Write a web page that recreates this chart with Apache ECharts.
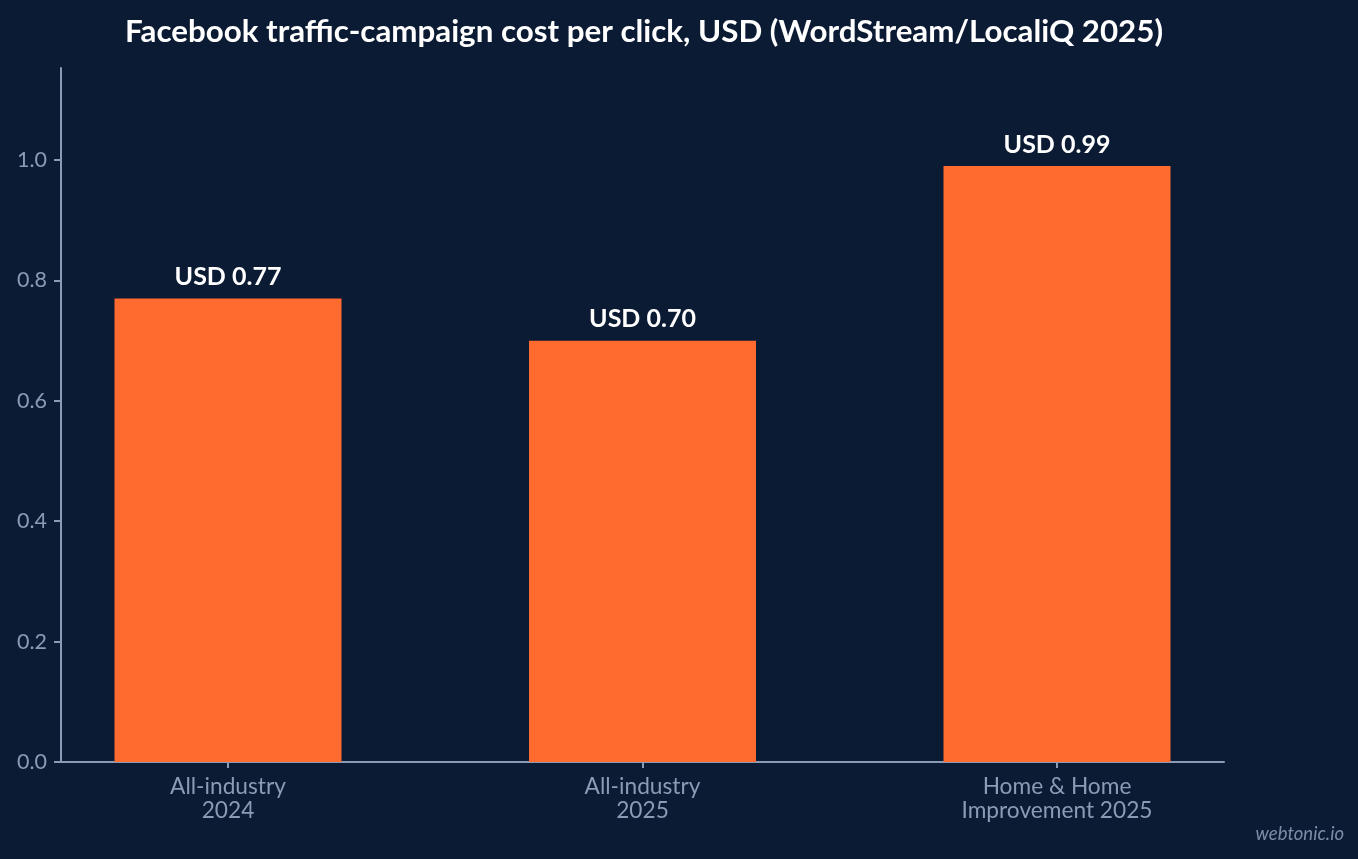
<!DOCTYPE html>
<html>
<head>
<meta charset="utf-8">
<script src="https://cdn.jsdelivr.net/npm/echarts@6/dist/echarts.min.js"></script>
<style>
  html, body { margin: 0; padding: 0; background: #0b1b34; }
  #chart { width: 1358px; height: 859px; }
</style>
</head>
<body>
<div id="chart"></div>
<script>
// data
var categories = ['All-industry\n2024', 'All-industry\n2025', 'Home & Home\nImprovement 2025'];
var cpcValues = [0.77, 0.70, 0.99];
var yTicks = [0, 0.2, 0.4, 0.6, 0.8, 1.0];
var yMax = 1.153;

var axisColor = '#8a9bb6';
var labelColor = '#8a9bb6';
var barColor = '#ff6b2e';

var chart = echarts.init(document.getElementById('chart'));

var option = {
  backgroundColor: '#0b1b34',
  textStyle: { fontFamily: 'Lato' },
  title: {
    text: 'Facebook traffic-campaign cost per click, USD (WordStream/LocaliQ 2025)',
    left: 639,
    top: 11,
    textAlign: 'center',
    textStyle: { color: '#ffffff', fontSize: 31.3, fontWeight: 'bold', fontFamily: 'Lato' }
  },
  grid: [
    // axes frame
    { left: 61, right: 134, top: 68, bottom: 97 },
    // bars
    { left: 20.75, right: 93.75, top: 68, bottom: 97 }
  ],
  xAxis: [
    {
      gridIndex: 0,
      type: 'value',
      min: 0,
      max: 1,
      axisLine: { show: true, lineStyle: { color: axisColor, width: 2 } },
      axisTick: { show: false },
      axisLabel: { show: false },
      splitLine: { show: false }
    },
    {
      gridIndex: 1,
      type: 'category',
      data: categories,
      axisLine: { show: false },
      axisTick: { show: true, alignWithLabel: true, length: 6, lineStyle: { color: axisColor, width: 2 } },
      axisLabel: { color: labelColor, fontSize: 22.7, lineHeight: 24, margin: 13, fontFamily: 'Lato' }
    }
  ],
  yAxis: [
    {
      gridIndex: 0,
      type: 'value',
      min: 0,
      max: yMax,
      axisLine: { show: true, lineStyle: { color: axisColor, width: 2 } },
      axisTick: { show: true, length: 7, customValues: yTicks, lineStyle: { color: axisColor, width: 2 } },
      axisLabel: {
        color: labelColor, fontSize: 21.5, margin: 14, fontFamily: 'Lato',
        customValues: yTicks,
        formatter: function (v) { return v.toFixed(1); }
      },
      splitLine: { show: false }
    },
    {
      gridIndex: 1,
      type: 'value',
      min: 0,
      max: yMax,
      show: false
    }
  ],
  series: [
    {
      type: 'bar',
      xAxisIndex: 1,
      yAxisIndex: 1,
      data: cpcValues,
      barWidth: 227,
      itemStyle: { color: barColor },
      label: {
        show: true,
        position: 'top',
        distance: 9,
        color: '#ffffff',
        fontSize: 25,
        fontWeight: 'bold',
        fontFamily: 'Lato',
        formatter: function (p) { return 'USD ' + p.value.toFixed(2); }
      },
      z: 1
    }
  ],
  graphic: [
    {
      type: 'text',
      right: 14,
      bottom: 15,
      style: {
        text: 'webtonic.io',
        fill: '#7d8ca8',
        font: 'italic 18.5px Lato'
      }
    }
  ]
};

chart.setOption(option);
</script>
</body>
</html>
